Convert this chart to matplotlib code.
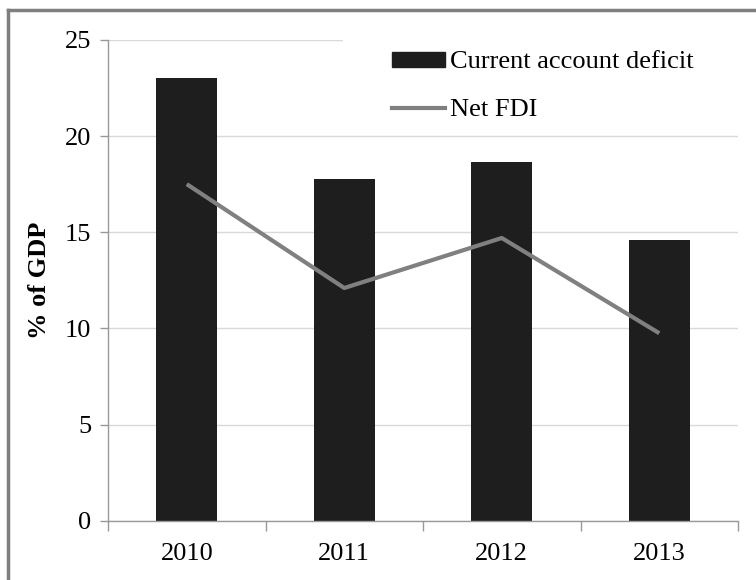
import matplotlib
matplotlib.use("Agg")
import matplotlib.pyplot as plt
from matplotlib.lines import Line2D
from matplotlib.patches import Rectangle

years = ['2010', '2011', '2012', '2013']
current_account_deficit = [23.0, 17.75, 18.65, 14.6]
net_fdi = [17.5, 12.1, 14.7, 9.75]

plt.rcParams['font.family'] = ['Liberation Serif', 'DejaVu Serif']

fig = plt.figure(figsize=(7.56, 5.8), dpi=100)
ax = fig.add_axes([0.1429, 0.1022, 0.8333, 0.829])

x = list(range(len(years)))
ax.bar(x, current_account_deficit, width=0.39, color='#1e1e1e',
       label='Current account deficit', zorder=2)
ax.plot(x, net_fdi, color='#808080', linewidth=3, label='Net FDI',
        solid_capstyle='butt', zorder=3)

ax.set_xlim(-0.5, 3.5)
ax.set_ylim(0, 25)
ax.set_yticks([0, 5, 10, 15, 20, 25])
ax.set_xticks([-0.5, 0.5, 1.5, 2.5, 3.5], minor=False)
ax.set_xticklabels([])
ax.set_xticks(x, minor=True)
ax.set_xticklabels(years, minor=True)
ax.tick_params(axis='x', which='minor', length=0, pad=16, labelsize=19)
ax.tick_params(axis='x', which='major', length=7, color='#999999', width=1)
ax.tick_params(axis='y', length=6, color='#999999', width=1, labelsize=19, pad=6)

ax.grid(axis='y', color='#d9d9d9', linewidth=1, zorder=0)
ax.set_axisbelow(True)
for side in ['top', 'right']:
    ax.spines[side].set_visible(False)
for side in ['left', 'bottom']:
    ax.spines[side].set_color('#999999')
    ax.spines[side].set_linewidth(1)

ax.set_ylabel('% of GDP', fontsize=19, fontweight='bold', labelpad=10)

# the legend area blanks out the top gridline in the original
ax.add_patch(Rectangle((0.373, 0.97), 0.63, 0.06, transform=ax.transAxes,
                       facecolor='white', edgecolor='none', zorder=1,
                       clip_on=False))

handles = [plt.Rectangle((0, 0), 1, 1, color='#1e1e1e'),
           Line2D([0], [0], color='#808080', linewidth=3)]
leg = ax.legend(handles, ['Current account deficit', 'Net FDI'],
                loc='upper left', bbox_to_anchor=(0.4175, 1.02),
                fontsize=19, frameon=False,
                handlelength=2.0, handleheight=0.5,
                handletextpad=0.2, labelspacing=0.98, borderpad=0.3)

# partial frame left over from the source crop
fig.add_artist(Line2D([0.0106, 0.0106], [0, 0.983], transform=fig.transFigure,
                      color='#7f7f7f', linewidth=2.5))
fig.add_artist(Line2D([0.0106, 1.0], [0.983, 0.983], transform=fig.transFigure,
                      color='#7f7f7f', linewidth=2.5))

fig.savefig('out.png', dpi=100)
